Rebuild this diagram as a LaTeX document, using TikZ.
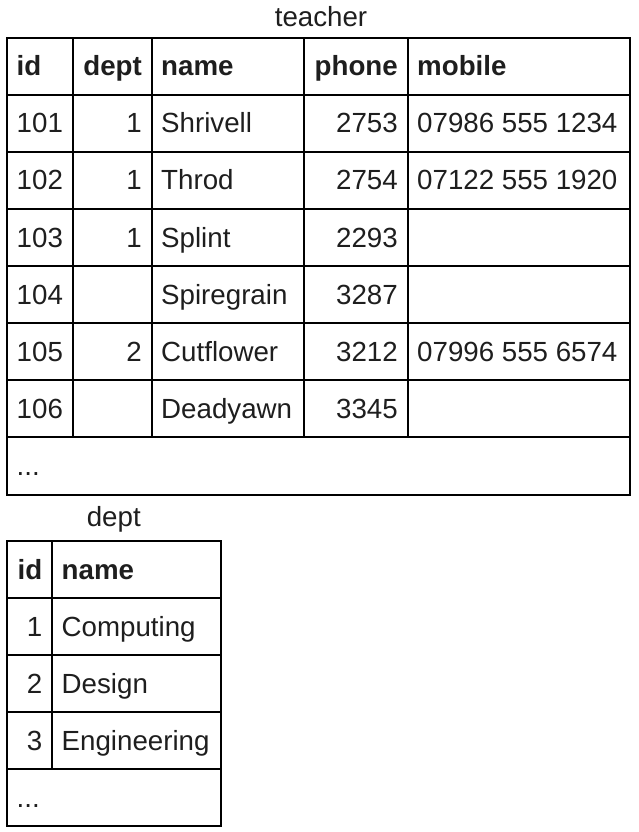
\documentclass[tikz,border=0pt]{standalone}
\usepackage{fontspec}
\setmainfont{Liberation Sans}
\definecolor{txt}{RGB}{30,30,30}
\begin{document}
\begin{tikzpicture}[x=1pt,y=-1pt,
  grid/.style={line width=2pt, line cap=rect},
  cell/.style={font=\fontsize{27.7}{33}\selectfont, text=txt, inner sep=0pt},
  hdr/.style={cell, font=\fontsize{27.7}{33}\selectfont\bfseries},
  lft/.style={anchor=base west},
  rgt/.style={anchor=base east}]
\useasboundingbox (0,0) rectangle (638,832);

% ---------- teacher ----------
\node[cell, anchor=base] (tlabel) at (321,27) {teacher};
\draw[grid] (7.3,37.7) rectangle (630,494.5);
\foreach \k in {1,...,7} \draw[grid] (7.3,{37.7+57.1*\k}) -- (630,{37.7+57.1*\k});
\foreach \cx in {72.7,151.7,304,407.5} \draw[grid] (\cx,37.7) -- (\cx,437.4);

\node[hdr, lft] (th1) at (16.5,75.7) {id};
\node[hdr, rgt] (th2) at (142,75.7) {dept};
\node[hdr, lft] (th3) at (161,75.7) {name};
\node[hdr, rgt] (th4) at (398,75.7) {phone};
\node[hdr, lft] (th5) at (417,75.7) {mobile};

\foreach \vr/\vid/\vdp/\vnm/\vph/\vmb in {1/101/1/Shrivell/2753/07986 555 1234, 2/102/1/Throd/2754/07122 555 1920, 3/103/1/Splint/2293/, 4/104//Spiregrain/3287/, 5/105/2/Cutflower/3212/07996 555 6574, 6/106//Deadyawn/3345/}{
  \node[cell, lft] (ta\vr) at (16.5,{75.7+57.1*\vr}) {\vid};
  \node[cell, rgt] (tb\vr) at (142,{75.7+57.1*\vr}) {\vdp};
  \node[cell, lft] (tc\vr) at (161,{75.7+57.1*\vr}) {\vnm};
  \node[cell, rgt] (td\vr) at (398,{75.7+57.1*\vr}) {\vph};
  \node[cell, lft] (te\vr) at (417,{75.7+57.1*\vr}) {\vmb};
}
\node[cell, lft] (tmore) at (16.5,475.4) {...};

% ---------- dept ----------
\node[cell, anchor=base] (dlabel) at (113.8,526) {dept};
\draw[grid] (7.3,541.3) rectangle (220.7,826.3);
\foreach \k in {1,...,4} \draw[grid] (7.3,{541.3+57*\k}) -- (220.7,{541.3+57*\k});
\draw[grid] (52.3,541.3) -- (52.3,769.3);

\node[hdr, rgt] (dh1) at (42.5,579.3) {id};
\node[hdr, lft] (dh2) at (61.5,579.3) {name};
\foreach \vr/\vid/\vnm in {1/1/Computing, 2/2/Design, 3/3/Engineering}{
  \node[cell, rgt] (da\vr) at (42.5,{579.3+57*\vr}) {\vid};
  \node[cell, lft] (db\vr) at (61.5,{579.3+57*\vr}) {\vnm};
}
\node[cell, lft] (dmore) at (16.5,807.3) {...};
\end{tikzpicture}
\end{document}
